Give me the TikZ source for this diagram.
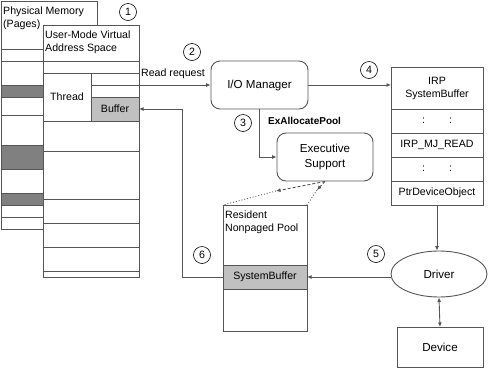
\documentclass[tikz,border=0pt]{standalone}
\usepackage{fontspec}
\setmainfont{Liberation Sans}
\usetikzlibrary{arrows.meta,positioning,shapes.geometric}
\definecolor{lngray}{HTML}{555555}
\definecolor{bufgray}{HTML}{C0C0C0}
\definecolor{pagegray}{HTML}{808080}
\tikzset{
  memline/.style={line width=0.9pt, draw=lngray},
  cell/.style={draw=lngray, line width=0.9pt, outer sep=0pt, inner sep=1pt, font=\fontsize{10.6}{13}\selectfont, align=center},
  lbl/.style={inner sep=0pt, font=\fontsize{10.6}{13}\selectfont, align=left},
  block/.style={draw=lngray, line width=0.9pt, rounded corners=9pt, minimum width=97pt, minimum height=48pt, font=\fontsize{11.6}{14.5}\selectfont, align=center},
  stepnum/.style={circle, draw=black, line width=0.6pt, minimum size=17pt, inner sep=0pt, font=\fontsize{10.6}{12}\selectfont},
  flow/.style={line width=0.9pt, draw=lngray, -{Latex[length=4.5pt,width=4pt]}},
  pooldash/.style={line width=0.9pt, draw=lngray, densely dashed, -{Latex[length=4.5pt,width=4pt]}},
  pooldot/.style={line width=0.9pt, draw=lngray, dotted},
}
\begin{document}
\begin{tikzpicture}[x=1pt, y=-1pt]
  \useasboundingbox (0,0) rectangle (488,368);
  % Physical Memory (Pages)
  \draw[memline] (1,1) rectangle (97,229);
  \foreach \ya/\yb in {85/97,145/169,193/205}
    \draw[memline, fill=pagegray] (1,\ya) rectangle (43,\yb);
  \foreach \y in {49,61,115,217}
    \draw[memline] (1,\y) -- (43,\y);
  \node[lbl, anchor=north west] (physlbl) at (3,6.5) {Physical Memory\\(Pages)};
  % User-Mode Virtual Address Space
  \draw[memline, fill=white] (43,25) rectangle (139,277);
  \foreach \y in {61,73,151,199,223,247,271}
    \draw[memline] (43,\y) -- (139,\y);
  \draw[memline] (91,85) -- (139,85);
  \node[lbl, anchor=north west] (userlbl) at (45,30.5) {User-Mode Virtual\\Address Space};
  \node[cell, minimum width=48pt, minimum height=48pt, fill=white] (thread) at (67,97) {Thread};
  \node[cell, minimum width=48pt, minimum height=24pt, fill=bufgray] (buffer) at (115,109) {Buffer};
  \coordinate (rq) at (139,85);
  % I/O Manager und Executive Support
  \node[block] (iom) at (259.5,85) {I/O Manager};
  \node[block, minimum width=96pt] (es) at (325,157) {Executive\\Support};
  \node[lbl, font=\fontsize{10}{12}\selectfont\bfseries, anchor=west] (alloc) at (268,121) {ExAllocatePool};
  % IRP
  \node[cell, minimum width=92pt, minimum height=42pt] (irp) at (437,88) {IRP\\SystemBuffer};
  \node[cell, minimum width=92pt, minimum height=24pt, below=0pt of irp] (dots1) {\makebox[30pt]{:\hfill:}};
  \node[cell, minimum width=92pt, minimum height=24pt, below=0pt of dots1] (major) {IRP\_MJ\_READ};
  \node[cell, minimum width=92pt, minimum height=24pt, below=0pt of major] (dots2) {\makebox[30pt]{:\hfill:}};
  \node[cell, minimum width=92pt, minimum height=24pt, below=0pt of dots2] (ptrdev) {PtrDeviceObject};
  % Driver, Device
  \node[ellipse, draw=lngray, line width=0.9pt, minimum width=96pt, minimum height=46pt, inner sep=0pt, font=\fontsize{11.6}{14}\selectfont] (drv) at (439,274) {Driver};
  \node[cell, minimum width=86pt, minimum height=40pt, font=\fontsize{11.6}{14}\selectfont] (dev) at (440,347) {Device};
  % Resident Nonpaged Pool
  \node[cell, minimum width=84pt, minimum height=126pt] (pool) at (265,268) {};
  \node[lbl, anchor=north west] (poollbl) at (225,211) {Resident\\Nonpaged Pool};
  \node[cell, minimum width=84pt, minimum height=24pt, fill=bufgray] (sysbuf) at (265,277) {SystemBuffer};
  % Verbindungen
  \draw[flow] (rq) -- (rq -| iom.west);
  \node[lbl, anchor=base west] (rqlbl) at (141,76) {Read request};
  \draw[flow] (iom.east) -- (iom.east -| irp.west);
  \draw[flow] (iom.south) |- (es.west);
  \coordinate (tipL) at (276,191);
  \coordinate (tipR) at (317,190);
  \draw[pooldash] (es.south) -- (tipL);
  \draw[pooldash] (es.south) -- (tipR);
  \draw[pooldot] (tipL) -- (pool.north west);
  \draw[pooldot] (tipR) -- (pool.north east);
  \draw[flow] (ptrdev.south) -- (ptrdev.south |- drv.north);
  \draw[{Latex[length=4.5pt,width=4pt]}-{Latex[length=4.5pt,width=4pt]}, line width=0.9pt, draw=lngray] (drv.south) -- (dev.north);
  \draw[flow] (drv.west |- sysbuf.east) -- (sysbuf.east);
  \draw[flow] (sysbuf.west) -- ++(-41,0) |- (buffer.east);
  % Schritte
  \node[stepnum] (s1) at (128,12) {1};
  \node[stepnum] (s2) at (192,52) {2};
  \node[stepnum] (s3) at (243,123) {3};
  \node[stepnum] (s4) at (369,70) {4};
  \node[stepnum] (s5) at (376,254) {5};
  \node[stepnum] (s6) at (202,255) {6};
\end{tikzpicture}
\end{document}
